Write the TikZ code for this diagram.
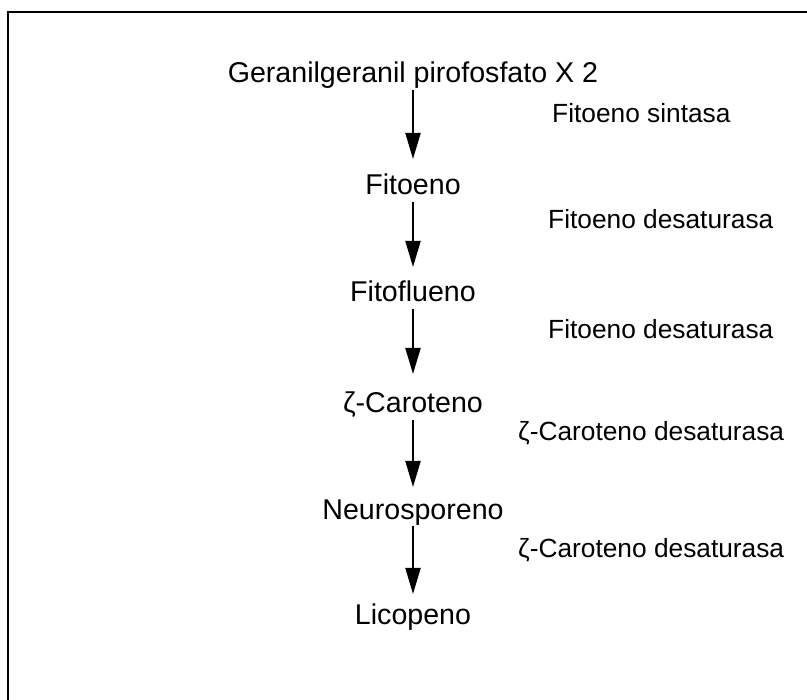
\documentclass[tikz,border=0pt]{standalone}
\usepackage{fontspec}
\setmainfont{Liberation Sans}
\usetikzlibrary{arrows.meta}
\begin{document}
\begin{tikzpicture}[x=1pt,y=-1pt,
  compound/.style={inner sep=0pt,anchor=base,font=\fontsize{28.6}{32}\selectfont},
  enzyme/.style={inner sep=0pt,anchor=base west,font=\fontsize{26.3}{30}\selectfont},
  arr/.style={line width=2pt,-{Triangle[length=26pt,width=15pt]}}]
  \useasboundingbox (0,0) rectangle (807,700);
  % frame (its right and bottom sides lie outside the page)
  \draw[line width=2.2pt] (8,12) rectangle (900,800);

  % pathway intermediates
  \node[compound] (ggpp) at (413,83)  {Geranilgeranil pirofosfato X 2};
  \node[compound] (fit)  at (413,195) {Fitoeno};
  \node[compound] (flu)  at (413,302) {Fitoflueno};
  \node[compound] (zc)   at (413,413) {ζ-Caroteno};
  \node[compound] (neu)  at (413,520) {Neurosporeno};
  \node[compound] (lic)  at (413,625) {Licopeno};

  % enzymes
  \node[enzyme] (e1) at (552,123) {Fitoeno sintasa};
  \node[enzyme] (e2) at (548,229) {Fitoeno desaturasa};
  \node[enzyme] (e3) at (548,339) {Fitoeno desaturasa};
  \node[enzyme] (e4) at (518,441) {ζ-Caroteno desaturasa};
  \node[enzyme] (e5) at (518,558) {ζ-Caroteno desaturasa};

  % reaction arrows
  \draw[arr] ([yshift=-7pt]ggpp.base) -- ([yshift=36pt]fit.base);
  \draw[arr] ([yshift=-7pt]fit.base)  -- ([yshift=35pt]flu.base);
  \draw[arr] ([yshift=-7pt]flu.base)  -- ([yshift=39pt]zc.base);
  \draw[arr] ([yshift=-7pt]zc.base)   -- ([yshift=33pt]neu.base);
  \draw[arr] ([yshift=-6pt]neu.base)  -- ([yshift=31pt]lic.base);
\end{tikzpicture}
\end{document}
